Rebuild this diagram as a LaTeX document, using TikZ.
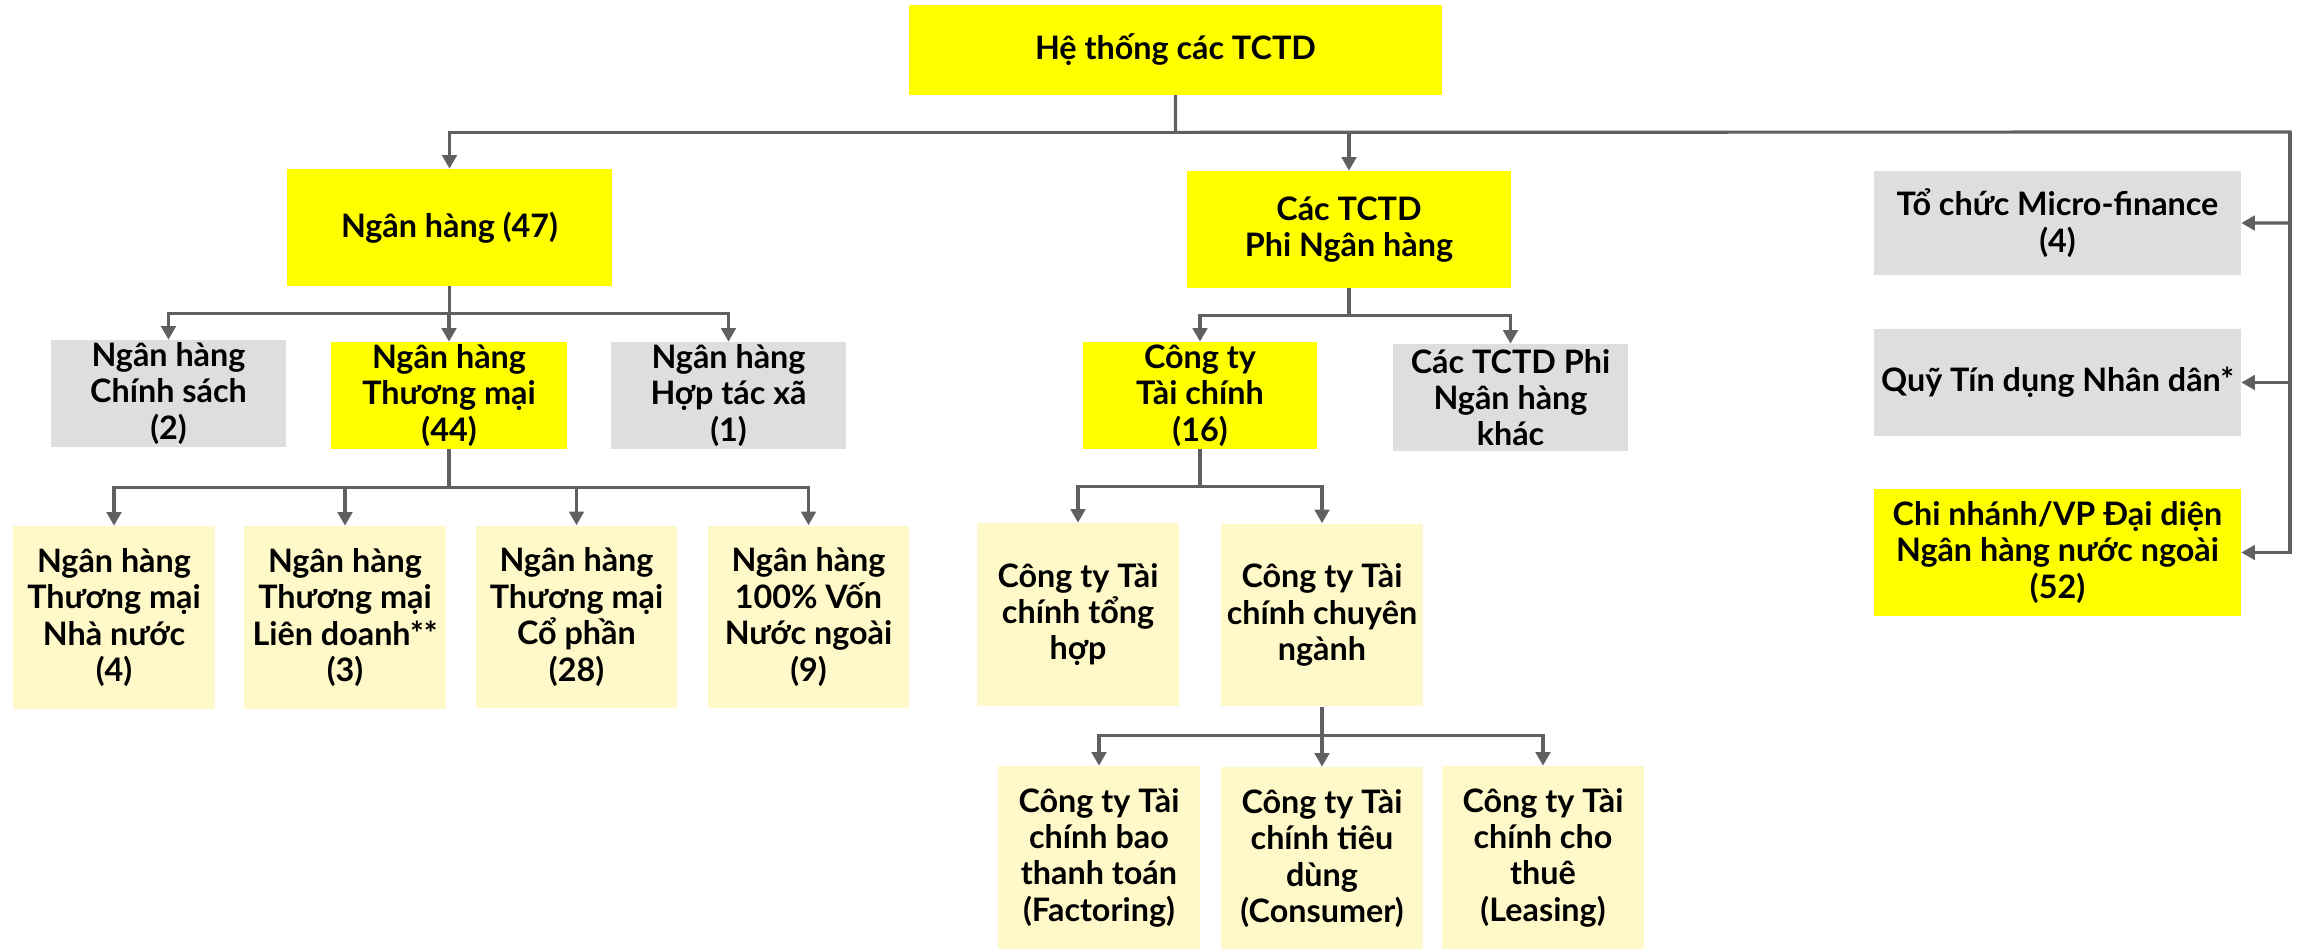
\documentclass[tikz,border=0pt]{standalone}
\usepackage{fontspec}
\setmainfont{Lato}
\usetikzlibrary{arrows.meta}
\definecolor{tcyellow}{HTML}{FFFF00}
\definecolor{tcgrey}{HTML}{DEDEDE}
\definecolor{tcpale}{HTML}{FFF9C9}
\definecolor{tcline}{HTML}{606060}
\begin{document}
\begin{tikzpicture}[x=0.02cm, y=-0.02cm,
	box/.style={rectangle, inner sep=0pt, align=center, font=\fontsize{18.4}{20.7}\selectfont\bfseries},
	hi/.style={box, fill=tcyellow},
	grey/.style={box, fill=tcgrey},
	pale/.style={box, fill=tcpale, minimum width=4.04cm, minimum height=3.66cm},
	link/.style={draw=tcline, line width=1.8pt, -{Triangle[length=0.27cm, width=0.29cm]}}]
	\useasboundingbox (0,0) rectangle (2300,949);
	% top
	\node[hi, minimum width=10.66cm, minimum height=1.8cm] (root) at (1175.5,50) {Hệ thống các TCTD};
	% banks / non-banks
	\node[hi, minimum width=6.5cm, minimum height=2.34cm] (bank) at (449.5,227.5) {Ngân hàng (47)};
	\node[hi, minimum width=6.48cm, minimum height=2.34cm] (nonbank) at (1349,229.5) {Các TCTD\\Phi Ngân hàng};
	\node[grey, minimum width=4.7cm, minimum height=2.14cm] (policy) at (168.5,393.5) {Ngân hàng\\Chính sách\\(2)};
	\node[hi, minimum width=4.72cm, minimum height=2.14cm] (commercial) at (449,395.5) {Ngân hàng\\Thương mại\\(44)};
	\node[grey, minimum width=4.7cm, minimum height=2.14cm] (coop) at (728.5,395.5) {Ngân hàng\\Hợp tác xã\\(1)};
	\node[hi, minimum width=4.68cm, minimum height=2.14cm] (fincomp) at (1200,395.5) {Công ty\\Tài chính\\(16)};
	\node[grey, minimum width=4.7cm, minimum height=2.14cm] (othernb) at (1510.5,397.5) {Các TCTD Phi\\Ngân hàng\\khác};
	% commercial banks
	\node[pale] (state) at (114,617.5) {Ngân hàng\\Thương mại\\Nhà nước\\(4)};
	\node[pale] (joint) at (345,617.5) {Ngân hàng\\Thương mại\\Liên doanh**\\(3)};
	\node[pale] (stock) at (576.5,617) {Ngân hàng\\Thương mại\\Cổ phần\\(28)};
	\node[pale] (foreign) at (808.5,617) {Ngân hàng\\100\% Vốn\\Nước ngoài\\(9)};
	% finance companies
	\node[pale] (general) at (1078,614.5) {Công ty Tài\\chính tổng\\hợp};
	\node[pale] (special) at (1322,615) {Công ty Tài\\chính chuyên\\ngành};
	\node[pale] (factoring) at (1099,857.5) {Công ty Tài\\chính bao\\thanh toán\\(Factoring)};
	\node[pale] (consumer) at (1322,858.5) {Công ty Tài\\chính tiêu\\dùng\\(Consumer)};
	\node[pale] (leasing) at (1543,857.5) {Công ty Tài\\chính cho\\thuê\\(Leasing)};
	% right column
	\node[grey, minimum width=7.34cm, minimum height=2.08cm] (micro) at (2057.5,223) {Tổ chức Micro-finance\\(4)};
	\node[grey, minimum width=7.34cm, minimum height=2.14cm] (quy) at (2057.5,382.5) {Quỹ Tín dụng Nhân dân*};
	\node[hi, minimum width=7.34cm, minimum height=2.54cm] (branch) at (2057.5,552.5) {Chi nhánh/VP Đại diện\\Ngân hàng nước ngoài\\(52)};
	% connectors
	\draw[link] (root.south) -- ++(0,37) -| (bank.north);
	\draw[link] (root.south) -- ++(0,37) -| (nonbank.north);
	\coordinate (rbus) at (2290,132);
	\draw[link] (root.south) -- ++(0,37) -- (rbus) |- (micro.east);
	\draw[link] (rbus) |- (quy.east);
	\draw[link] (rbus) |- (branch.east);
	\foreach \n in {policy, commercial, coop}
		\draw[link] (bank.south) -- ++(0,27) -| (\n.north);
	\foreach \n in {state, joint, stock, foreign}
		\draw[link] (commercial.south) -- ++(0,38) -| (\n.north);
	\foreach \n in {fincomp, othernb}
		\draw[link] (nonbank.south) -- ++(0,27) -| (\n.north);
	\foreach \n in {general, special}
		\draw[link] (fincomp.south) -- ++(0,37) -| (\n.north);
	\foreach \n in {factoring, consumer, leasing}
		\draw[link] (special.south) -- ++(0,29) -| (\n.north);
\end{tikzpicture}
\end{document}
